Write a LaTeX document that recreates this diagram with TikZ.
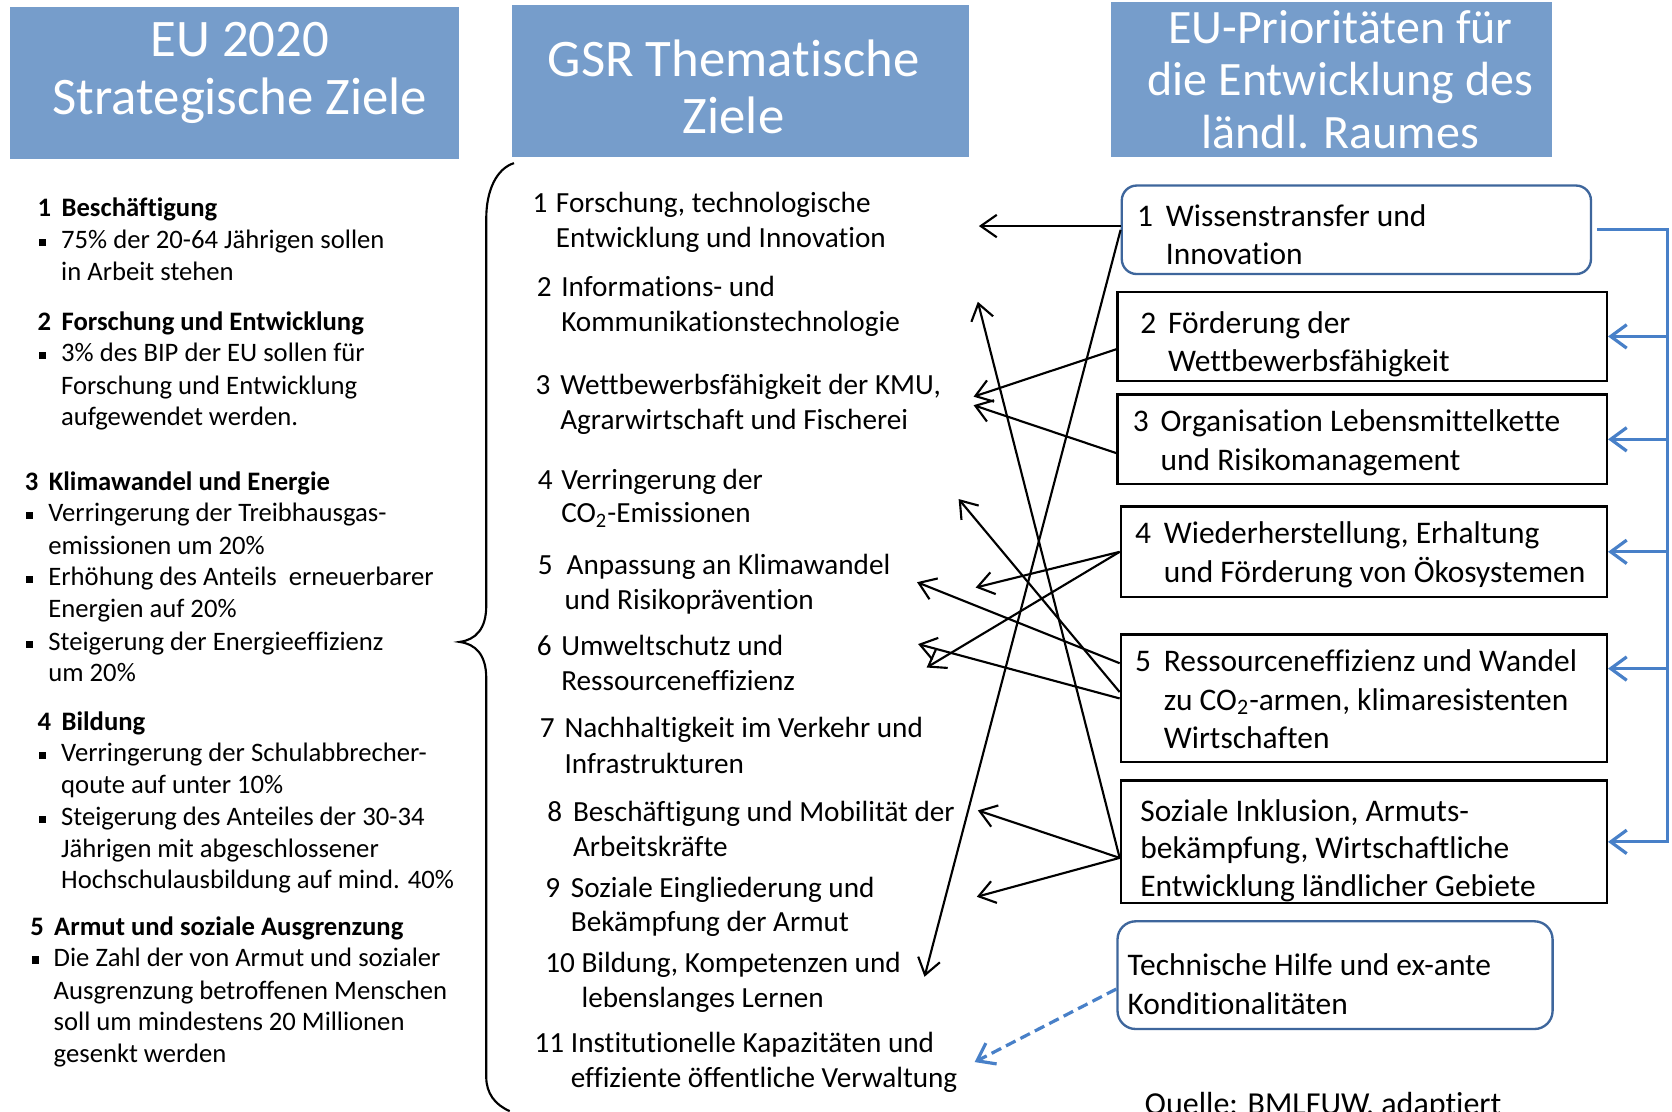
\documentclass[tikz,border=0pt]{standalone}
\usepackage{fontspec}
\setmainfont{Carlito}[Ligatures={NoCommon}]
\usetikzlibrary{arrows.meta,calc,fit}
\definecolor{hdrblue}{RGB}{118,157,203}
\definecolor{bline}{RGB}{72,128,200}
\definecolor{bborder}{RGB}{62,102,156}
\newcommand\bul{\makebox[0pt][r]{\raisebox{1.2pt}{\rule{3.4pt}{3.4pt}}\hspace{7pt}}}
\newcommand\nb[1]{\makebox[11.2pt][l]{#1}}
\begin{document}
\begin{tikzpicture}[x=0.5pt,y=-0.5pt,
  hdr/.style={fill=hdrblue, draw=none, inner sep=0},
  htext/.style={text=white, font=\fontsize{24.75pt}{27pt}\selectfont, anchor=base, inner sep=0},
  htextb/.style={text=white, font=\fontsize{22.5pt}{25pt}\selectfont, anchor=base, inner sep=0},
  ltext/.style={font=\fontsize{12.5pt}{15pt}\selectfont, anchor=base west, inner sep=0},
  mtext/.style={font=\fontsize{13.7pt}{16.5pt}\selectfont, anchor=base west, inner sep=0},
  rtext/.style={font=\fontsize{14.75pt}{18pt}\selectfont, anchor=base west, inner sep=0},
  pbox/.style={draw=black, line width=1pt, inner sep=0},
  rbox/.style={draw=bborder, line width=1.1pt, rounded corners=7pt, inner sep=0},
  link/.style={draw=black, line width=1pt, -{Straight Barb[length=7.5pt,width=10.5pt]}},
  blink/.style={draw=bline, line width=1.5pt, -{Straight Barb[length=7.5pt,width=11pt]}}]
\useasboundingbox (0,0) rectangle (1568,1042);
\clip (0,0) rectangle (1568,1042);
\fill[white] (0,0) rectangle (1568,1042);

% headers
\node[hdr, fit={(9,7) (430,149)}] (H1) {};
\node[hdr, fit={(480,5) (909,147)}] (H2) {};
\node[hdr, fit={(1042,2) (1455,147)}] (H3) {};
\node[htext] (h1a) at (225,53) {EU 2020};
\node[htext] (h1b) at (225,107) {Strategische Ziele};
\node[htext] (h2a) at (688,72) {GSR Thematische};
\node[htext] (h2b) at (688,125) {Ziele};
\node[htextb] (h3a) at (1257,41) {EU-Prioritäten für};
\node[htextb] (h3b) at (1257,90) {die Entwicklung des};
\node[htextb] (h3c) at (1257,139) {ländl. Raumes};

% left column
\node[ltext] (l1) at (35,203) {\bfseries\nb{1}Beschäftigung};
\node[ltext] (l1a) at (57,233) {\bul 75\% der 20-64 Jährigen sollen};
\node[ltext] (l1b) at (57,263) {in Arbeit stehen};
\node[ltext] (l2) at (35,310) {\bfseries\nb{2}Forschung und Entwicklung};
\node[ltext] (l2a) at (57,339) {\bul 3\% des BIP der EU sollen für};
\node[ltext] (l2b) at (57,370) {Forschung und Entwicklung};
\node[ltext] (l2c) at (57,399) {aufgewendet werden.};
\node[ltext] (l3) at (23,460) {\bfseries\nb{3}Klimawandel und Energie};
\node[ltext] (l3a) at (45,489) {\bul Verringerung der Treibhausgas-};
\node[ltext] (l3b) at (45,520) {emissionen um 20\%};
\node[ltext] (l3c) at (45,549) {\bul Erhöhung des Anteils\ \ erneuerbarer};
\node[ltext] (l3d) at (45,579) {Energien auf 20\%};
\node[ltext] (l3e) at (45,610) {\bul Steigerung der Energieeffizienz};
\node[ltext] (l3f) at (45,639) {um 20\%};
\node[ltext] (l4) at (35,685) {\bfseries\nb{4}Bildung};
\node[ltext] (l4a) at (57,714) {\bul Verringerung der Schulabbrecher-};
\node[ltext] (l4b) at (57,744) {qoute auf unter 10\%};
\node[ltext] (l4c) at (57,774) {\bul Steigerung des Anteiles der 30-34};
\node[ltext] (l4d) at (57,804) {Jährigen mit abgeschlossener};
\node[ltext] (l4e) at (57,833) {Hochschulausbildung auf mind. 40\%};
\node[ltext] (l5) at (28,877) {\bfseries\nb{5}Armut und soziale Ausgrenzung};
\node[ltext] (l5a) at (50,906) {\bul Die Zahl der von Armut und sozialer};
\node[ltext] (l5b) at (50,937) {Ausgrenzung betroffenen Menschen};
\node[ltext] (l5c) at (50,966) {soll um mindestens 20 Millionen};
\node[ltext] (l5d) at (50,996) {gesenkt werden};

% brace
\draw[line width=1pt] (482,153) .. controls (466,158) and (456,178) .. (456,205)
  -- (456,568) .. controls (456,590) and (446,600) .. (431,602)
  .. controls (446,604) and (456,614) .. (456,636)
  -- (456,1010) .. controls (456,1025) and (464,1036) .. (478,1042);

% middle column
\node[mtext] (m1n) at (499,199) {1};
\node[mtext] (m1a) at (521,199) {Forschung, technologische};
\node[mtext] (m1b) at (521,232) {Entwicklung und Innovation};
\node[mtext] (m2n) at (503,278) {2};
\node[mtext] (m2a) at (526,278) {Informations- und};
\node[mtext] (m2b) at (526,311) {Kommunikationstechnologie};
\node[mtext] (m3n) at (502,370) {3};
\node[mtext] (m3a) at (525,370) {Wettbewerbsfähigkeit der KMU,};
\node[mtext] (m3b) at (525,403) {Agrarwirtschaft und Fischerei};
\node[mtext] (m4n) at (504,459) {4};
\node[mtext] (m4a) at (526,459) {Verringerung der};
\node[mtext] (m4b) at (526,490) {CO\textsubscript{2}-Emissionen};
\node[mtext] (m5n) at (504,539) {5};
\node[mtext] (m5a) at (531,539) {Anpassung an Klimawandel};
\node[mtext] (m5b) at (529,572) {und Risikoprävention};
\node[mtext] (m6n) at (503,615) {6};
\node[mtext] (m6a) at (526,615) {Umweltschutz und};
\node[mtext] (m6b) at (526,648) {Ressourceneffizienz};
\node[mtext] (m7n) at (506,692) {7};
\node[mtext] (m7a) at (529,692) {Nachhaltigkeit im Verkehr und};
\node[mtext] (m7b) at (529,725) {Infrastrukturen};
\node[mtext] (m8n) at (513,770) {8};
\node[mtext] (m8a) at (537,770) {Beschäftigung und Mobilität der};
\node[mtext] (m8b) at (537,803) {Arbeitskräfte};
\node[mtext] (m9n) at (511,842) {9};
\node[mtext] (m9a) at (535,842) {Soziale Eingliederung und};
\node[mtext] (m9b) at (535,874) {Bekämpfung der Armut};
\node[mtext] (m10n) at (511,912) {10};
\node[mtext] (m10a) at (545,912) {Bildung, Kompetenzen und};
\node[mtext] (m10b) at (545,945) {lebenslanges Lernen};
\node[mtext] (m11n) at (501,987) {11};
\node[mtext] (m11a) at (535,987) {Institutionelle Kapazitäten und};
\node[mtext] (m11b) at (535,1020) {effiziente öffentliche Verwaltung};

% right boxes
\node[rbox, fit={(1052,174) (1492,257)}] (R1) {};
\node[pbox, fit={(1048,274) (1507,357)}] (R2) {};
\node[pbox, fit={(1048,370) (1507,454)}] (R3) {};
\node[pbox, fit={(1051,475) (1507,560)}] (R4) {};
\node[pbox, fit={(1051,595) (1507,715)}] (R5) {};
\node[pbox, fit={(1051,732) (1507,847)}] (R6) {};
\node[rbox, rounded corners=8.5pt, fit={(1048,864) (1456,965)}] (R7) {};

\node[rtext] (r1n) at (1066,212) {1};
\node[rtext] (r1a) at (1093,212) {Wissenstransfer und};
\node[rtext] (r1b) at (1093,248) {Innovation};
\node[rtext] (r2n) at (1069,313) {2};
\node[rtext] (r2a) at (1095,313) {Förderung der};
\node[rtext] (r2b) at (1095,348) {Wettbewerbsfähigkeit};
\node[rtext] (r3n) at (1062,405) {3};
\node[rtext] (r3a) at (1088,405) {Organisation Lebensmittelkette};
\node[rtext] (r3b) at (1088,441) {und Risikomanagement};
\node[rtext] (r4n) at (1064,510) {4};
\node[rtext] (r4a) at (1091,510) {Wiederherstellung, Erhaltung};
\node[rtext] (r4b) at (1091,546) {und Förderung von Ökosystemen};
\node[rtext] (r5n) at (1064,630) {5};
\node[rtext] (r5a) at (1091,630) {Ressourceneffizienz und Wandel};
\node[rtext] (r5b) at (1091,666) {zu CO\textsubscript{2}-armen, klimaresistenten};
\node[rtext] (r5c) at (1091,702) {Wirtschaften};
\node[rtext] (r6a) at (1069,770) {Soziale Inklusion, Armuts-};
\node[rtext] (r6b) at (1069,805) {bekämpfung, Wirtschaftliche};
\node[rtext] (r6c) at (1069,841) {Entwicklung ländlicher Gebiete};
\node[rtext] (r7a) at (1057,915) {Technische Hilfe und ex-ante};
\node[rtext] (r7b) at (1057,951) {Konditionalitäten};
\node[rtext, font=\fontsize{15pt}{18pt}\selectfont] (src) at (1073,1045) {Quelle: BMLFUW, adaptiert};

% arrow tips
\coordinate (t1) at (918,212);
\coordinate (t2) at (917,283);
\coordinate (t3a) at (913,372);
\coordinate (t3b) at (913,380);
\coordinate (t4) at (899,468);
\coordinate (t5a) at (915,551);
\coordinate (t5b) at (860,546);
\coordinate (t6a) at (869,626);
\coordinate (t6b) at (861,604);
\coordinate (t8) at (917,760);
\coordinate (t9) at (916,841);
\coordinate (t10) at (867,916);
\coordinate (t11) at (914,996);

\draw[link] (R1.west|-t1) -- (t1);
\draw[link] (R1.west) -- (t10);
\draw[link] ($(R2.west)+(0,12)$) -- (t3a);
\draw[link] ($(R3.west)+(0,13)$) -- (t3b);
\draw[link] (R4.west) -- (t5a);
\draw[link] (R4.west) -- (t6a);
\draw[link] ($(R5.west)+(0,-33)$) -- (t5b);
\draw[link] ($(R5.west)+(0,-6)$) -- (t4);
\draw[link] (R5.west) -- (t6b);
\draw[link] ($(R6.west)+(0,15)$) -- (t2);
\draw[link] ($(R6.west)+(0,15)$) -- (t8);
\draw[link] ($(R6.west)+(0,15)$) -- (t9);
\draw[blink, dash pattern=on 5pt off 2.6pt] ($(R7.west)+(0,13)$) -- (t11);

% blue bus on the right
\coordinate (bus) at (1564,0);
\coordinate (r5y) at (0,627);
\draw[blink] ($(R1.east)+(5,0)$) -| (bus|-R6.east) -- (R6.east);
\draw[blink] (bus|-R2.east) -- (R2.east);
\draw[blink] (bus|-R3.east) -- (R3.east);
\draw[blink] (bus|-R4.east) -- (R4.east);
\draw[blink] (bus|-r5y) -- (R5.east|-r5y);
\end{tikzpicture}
\end{document}
